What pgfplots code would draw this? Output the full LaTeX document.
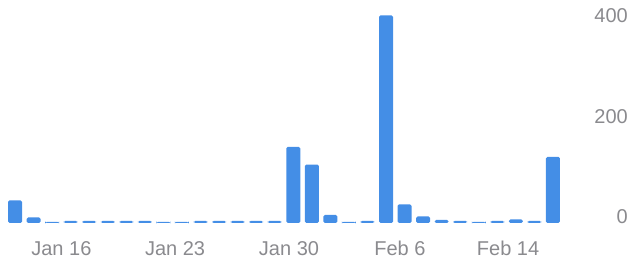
\documentclass[border=0pt]{standalone}
\usepackage{fontspec}
\setmainfont{Liberation Sans}
\usepackage{pgfplots}
\pgfplotsset{compat=1.18}
\definecolor{barblue}{RGB}{68,142,230}
\definecolor{labgray}{RGB}{138,138,142}
\begin{document}
\begin{tikzpicture}
\path[use as bounding box] (0,0) rectangle (631pt,264pt);
\begin{axis}[
  at={(0pt,41pt)}, anchor=south west,
  scale only axis,
  width=568pt, height=223pt,
  xmin=-0.81, xmax=29.81,
  ymin=0, ymax=442.5,
  axis line style={draw=none},
  major tick length=0pt,
  xtick={2.5,8.63,14.77,20.75,26.58},
  xticklabels={Jan 16, Jan 23, Jan 30, Feb 6, Feb 14},
  ytick={0,200,400},
  yticklabel pos=right,
  /pgf/number format/assume math mode=true,
  ticklabel style={font=\fontsize{20}{24}\selectfont, text=labgray, inner sep=0pt},
  xticklabel style={anchor=base, yshift=-33pt},
  yticklabel style={anchor=east, xshift=60pt, yshift=6pt},
  clip=false,
]
\addplot[ybar, bar width=14pt, fill=barblue, draw=none, rounded corners=1.5pt] coordinates {
(0,45) (1,11) (2,2) (3,4) (4,4) (5,4) (6,4) (7,4) (8,2) (9,2)
(10,4) (11,4) (12,4) (13,4) (14,4) (15,151) (16,116) (17,16) (18,2) (19,4)
(20,412) (21,37) (22,13) (23,6) (24,4) (25,2) (26,4) (27,7) (28,4) (29,131)
};
\end{axis}
\end{tikzpicture}
\end{document}
